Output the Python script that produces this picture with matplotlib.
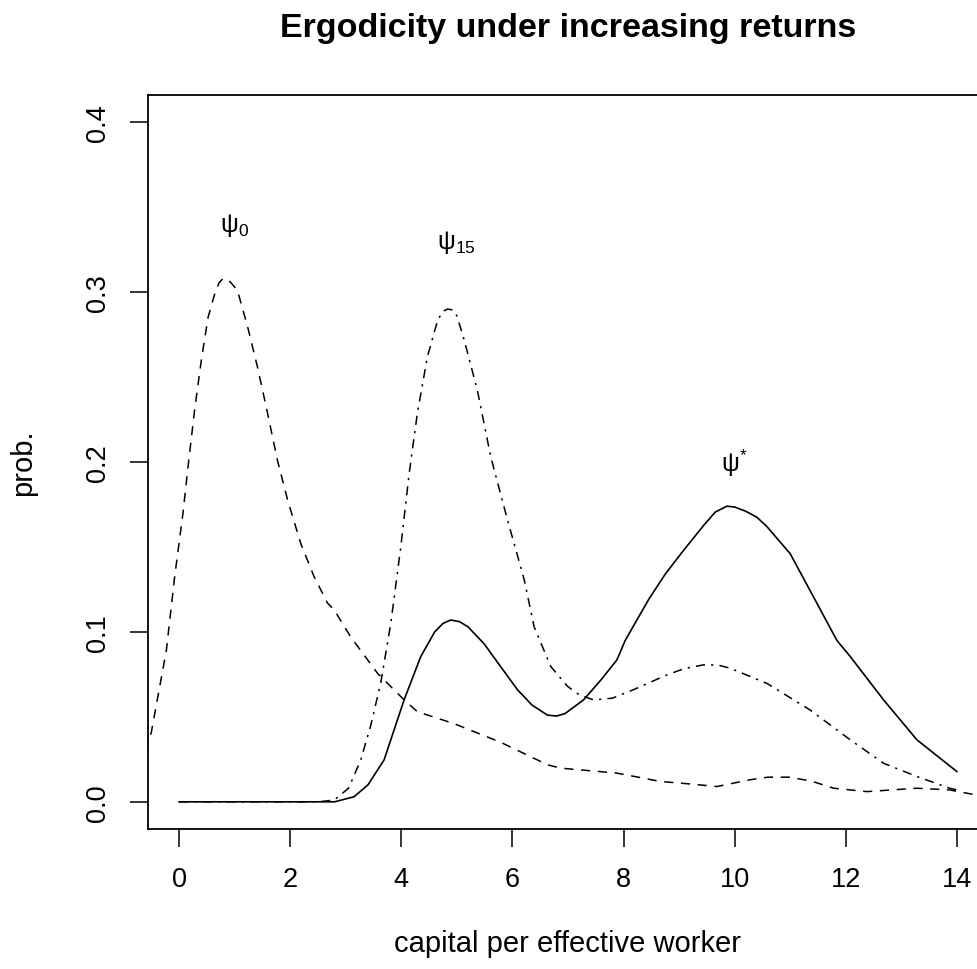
import matplotlib

matplotlib.use("Agg")
import matplotlib.pyplot as plt

plt.rcParams["font.family"] = ["Liberation Sans", "DejaVu Sans"]
plt.rcParams["mathtext.fontset"] = "custom"
plt.rcParams["mathtext.rm"] = "Liberation Sans"

# --- datos ---
# psi_0 (discontinua)
x_psi0 = [-0.6, -0.5, -0.23, -0.08, 0.07, 0.16, 0.28, 0.40, 0.52, 0.65, 0.72, 0.79, 0.86, 0.92,
          1.05, 1.23, 1.41, 1.59, 1.77, 1.95, 2.19, 2.43, 2.67, 2.79, 3.09, 3.57,
          4.05, 4.29, 4.95, 5.79, 6.63, 6.87, 7.88, 8.66, 9.2, 9.68, 10.28, 10.6,
          11.0, 11.4, 11.78, 12.38, 13.28, 13.87, 14.35, 14.6]
y_psi0 = [0.030, 0.041, 0.089, 0.1325, 0.170, 0.197, 0.231, 0.260, 0.285, 0.300, 0.3055, 0.308, 0.3075, 0.306,
          0.301, 0.280, 0.256, 0.229, 0.201, 0.178, 0.152, 0.1325, 0.117, 0.113, 0.097, 0.0757,
          0.060, 0.053, 0.046, 0.035, 0.0218, 0.0198, 0.0169, 0.012, 0.0105, 0.009, 0.013, 0.0145,
          0.0145, 0.012, 0.008, 0.006, 0.008, 0.007, 0.004, 0.003]

# psi_15 (punto-raya)
x_psi15 = [0, 2.5, 2.79, 3.05, 3.27, 3.45, 3.63, 3.81, 3.99, 4.14, 4.29, 4.47, 4.65, 4.74, 4.83,
           4.93, 5.0, 5.13, 5.37, 5.61, 5.91, 6.21, 6.39, 6.69, 6.99, 7.2, 7.46, 7.8, 8.18, 8.78,
           9.1, 9.44, 9.7, 9.92, 10.58, 11.36, 12.08, 12.68, 13.28, 13.87, 14.0]
y_psi15 = [0, 0, 0.001, 0.008, 0.0247, 0.045, 0.070, 0.105, 0.150, 0.193, 0.229, 0.262, 0.283, 0.2885, 0.290,
           0.2895, 0.286, 0.272, 0.242, 0.203, 0.166, 0.131, 0.103, 0.0796, 0.068, 0.063, 0.060, 0.061, 0.066, 0.0747,
           0.0785, 0.0806, 0.0805, 0.0786, 0.0697, 0.054, 0.0365, 0.0227, 0.0149, 0.008, 0.007]

# psi* (continua)
x_star = [0, 2.8, 3.15, 3.4, 3.69, 4.05, 4.35, 4.6, 4.75, 4.89, 5.05, 5.2, 5.49, 5.8, 6.09, 6.35, 6.63,
          6.8, 6.95, 7.28, 7.6, 7.88, 8.03, 8.45, 8.75, 9.08, 9.45, 9.65, 9.86, 10.0, 10.2, 10.4,
          10.58, 11.0, 11.33, 11.84, 12.08, 12.68, 13.28, 14.0]
y_star = [0, 0, 0.003, 0.010, 0.0247, 0.060, 0.0855, 0.100, 0.105, 0.107, 0.106, 0.103, 0.093, 0.079, 0.066,
          0.057, 0.051, 0.0505, 0.052, 0.060, 0.072, 0.0835, 0.095, 0.119, 0.134, 0.148, 0.163, 0.1705, 0.174,
          0.1735, 0.171, 0.1675, 0.162, 0.146, 0.126, 0.095, 0.0855, 0.060, 0.0365, 0.0178]

labels = ["$\\mathregular{ψ_0}$", "$\\mathregular{ψ_{15}}$", "$\\mathregular{ψ^{*}}$"]
label_x = [1.0, 5.0, 10.0]
label_y = [0.34, 0.33, 0.20]

x_ticks = [0, 2, 4, 6, 8, 10, 12, 14]
y_ticks = [0.0, 0.1, 0.2, 0.3, 0.4]

fig = plt.figure(figsize=(9.77, 9.70), dpi=100)
# el marco derecho queda fuera de la imagen, como en el original
ax = fig.add_axes([148 / 977, 1 - 830 / 970, 840 / 977, (830 - 96) / 970])

ax.plot(x_psi0, y_psi0, color="black", lw=1.1, dashes=(6, 5))
ax.plot(x_psi15, y_psi15, color="black", lw=1.1, dashes=(6, 4, 1.5, 4))
ax.plot(x_star, y_star, color="black", lw=1.2)

for t, tx, ty in zip(labels, label_x, label_y):
    ax.text(tx, ty, t, ha="center", va="center", fontsize=18)

ax.set_xlim(-0.56, 14.56)
ax.set_ylim(-0.016, 0.416)
ax.set_xticks(x_ticks)
ax.set_yticks(y_ticks)
ax.set_yticklabels([f"{v:.1f}" for v in y_ticks], rotation=90, va="center")
ax.tick_params(axis="both", labelsize=19.5, length=13, width=1.1, direction="out", pad=14)
for s in ax.spines.values():
    s.set_linewidth(1.3)

ax.set_xlabel("capital per effective worker", fontsize=21, labelpad=26)
ax.set_ylabel("prob.", fontsize=21, labelpad=34)
fig.text(568 / 977, 1 - 29 / 970, "Ergodicity under increasing returns",
         ha="center", va="center", fontsize=24.5, fontweight="bold")

fig.savefig("out.png", dpi=100)
plt.close(fig)
